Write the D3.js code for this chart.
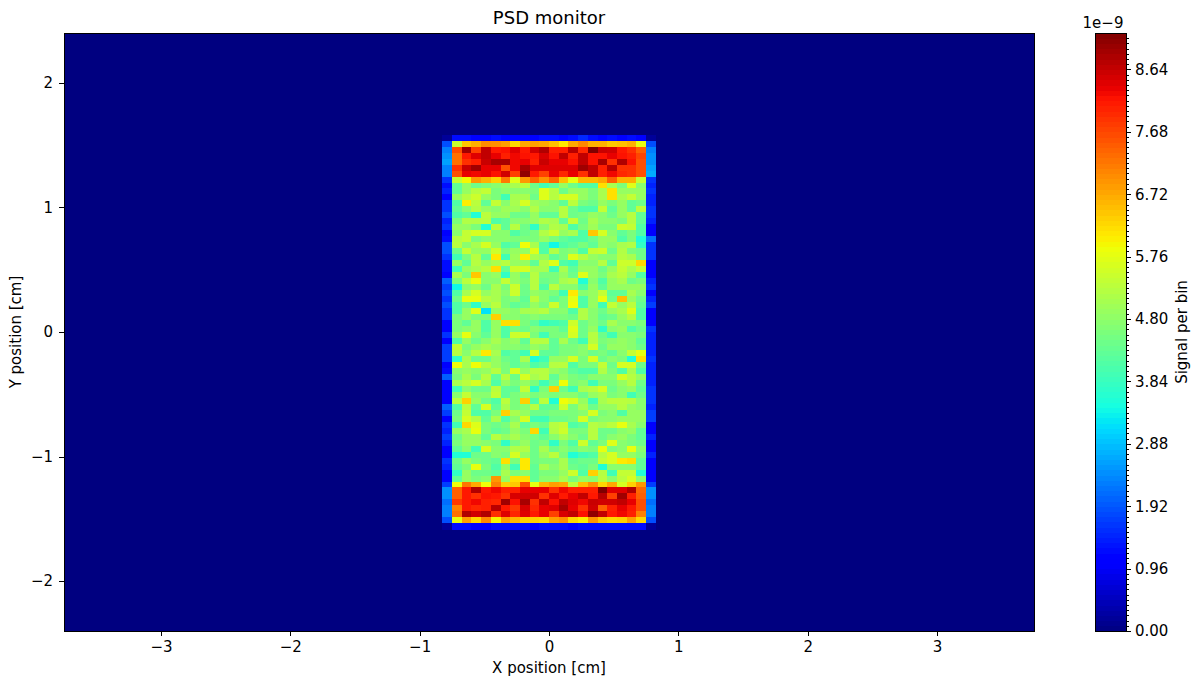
<!DOCTYPE html>
<html><head><meta charset="utf-8">
<script src="https://cdn.jsdelivr.net/npm/d3@7/dist/d3.min.js"></script>
<style>html,body{margin:0;padding:0;background:#fff}svg{display:block}text{font-family:"DejaVu Sans",sans-serif;fill:#000}</style>
</head><body><svg id="c" width="1200" height="687"></svg>
<script>
const chartTitle = "PSD monitor";
const xLabel = "X position [cm]";
const yLabel = "Y position [cm]";
const barLabel = "Signal per bin";
const barExponent = "1e\u22129";
const xTicks = [-3,-2,-1,0,1,2,3];
const yTicks = [-2,-1,0,1,2];
const barTicks = [0,0.96,1.92,2.88,3.84,4.80,5.76,6.72,7.68,8.64];
const xDomain = [-3.75,3.75];
const yDomain = [-2.4,2.4];
const barMax = 9.2;
const binsPerAxis = 100;
const firstColumn = 39;
const firstRow = 17;
// signal per bin (units of 1e-9); everything outside this block is 0
const signal = [
[0.2,1.25,1.25,1.05,1.05,1.25,1.15,1.15,1.05,1.15,1.25,1.25,1.05,1.25,1.5,1.25,1.05,1.25,1.15,1.25,1.05,0.2],
[1.85,5.45,6.42,6.66,7.0,6.97,6.82,6.27,6.74,6.82,6.74,6.5,6.1,6.74,7.05,6.66,6.66,6.42,6.5,6.66,5.8,1.85],
[2.3,7.6,8.94,7.75,8.68,8.14,8.2,8.44,8.14,8.56,8.81,8.07,8.07,8.75,8.0,9.2,8.62,8.56,8.14,7.9,7.44,2.3],
[2.45,7.28,8.14,8.44,8.68,8.37,8.07,8.3,8.2,8.14,8.5,8.2,8.68,8.07,8.68,8.2,8.2,8.37,8.2,8.07,7.7,2.45],
[2.6,7.28,7.9,8.07,8.62,8.88,8.88,8.3,8.37,8.07,8.62,8.37,8.37,8.2,8.68,8.2,8.88,7.9,8.81,8.2,7.6,2.45],
[2.3,7.9,8.62,8.94,8.37,8.37,7.6,8.3,8.88,8.44,8.44,8.44,8.44,8.44,8.94,8.68,8.07,8.75,7.9,7.9,7.6,2.6],
[2.3,7.6,8.37,8.3,8.37,8.2,8.56,7.75,9.07,8.14,7.75,8.37,8.0,8.37,7.9,8.68,8.07,8.3,8.0,7.9,7.6,2.7],
[1.6,5.45,5.97,6.9,6.66,6.34,7.2,5.72,6.9,7.44,6.97,7.44,6.5,5.8,6.58,6.58,6.74,7.44,6.66,6.66,5.45,1.6],
[1.25,4.3,4.9,4.45,4.6,4.75,4.9,5.1,5.3,4.45,3.94,4.3,4.9,4.45,4.12,4.12,6.19,5.1,4.6,5.7,4.75,1.45],
[1.45,4.3,4.9,5.25,5.4,4.6,4.75,4.75,4.75,4.6,5.7,5.25,4.45,4.9,4.9,4.6,5.1,6.19,4.9,4.9,4.9,1.6],
[1.05,4.9,5.25,5.5,4.9,4.6,3.94,5.1,5.1,4.45,5.7,5.25,5.6,5.6,4.9,4.6,5.1,6.19,5.1,5.4,4.9,1.45],
[1.6,4.12,6.05,5.3,4.3,5.4,4.75,5.1,5.6,5.0,4.9,4.75,4.3,5.3,4.6,4.45,4.9,4.6,4.9,4.3,4.45,1.45],
[1.6,4.3,4.75,5.2,4.9,4.75,5.0,5.0,4.75,5.2,4.75,4.75,5.25,4.45,4.12,4.12,5.4,4.3,4.9,4.3,5.3,1.6],
[1.85,4.12,4.3,3.58,5.3,4.9,4.9,4.45,4.45,4.9,4.3,4.3,5.25,4.45,4.6,4.9,4.75,4.45,4.9,5.25,4.3,1.6],
[1.45,4.6,5.2,5.2,5.25,4.12,4.3,4.75,4.75,4.9,5.2,5.1,4.3,5.4,4.45,5.1,4.75,4.75,4.6,5.25,4.3,1.45],
[1.6,4.9,4.9,4.6,3.58,5.3,4.3,5.25,4.45,3.76,4.75,5.2,5.1,4.12,4.6,5.0,4.6,4.6,5.5,5.4,4.12,1.05],
[1.05,4.75,5.4,5.6,5.6,4.75,4.75,4.12,4.45,4.6,5.2,5.5,4.9,5.1,4.12,6.42,5.6,4.75,4.3,4.6,4.12,1.05],
[1.25,5.25,5.4,4.6,4.75,4.75,4.75,4.6,4.6,4.6,4.9,4.6,4.3,4.12,4.12,4.45,4.9,4.9,4.12,4.6,3.58,2.15],
[1.85,5.3,4.75,5.1,5.6,4.9,4.12,4.3,5.9,5.1,4.12,3.4,4.12,4.3,4.6,4.3,4.9,4.75,5.1,5.2,3.76,1.6],
[1.85,4.45,5.4,4.9,4.9,5.5,4.6,4.9,4.9,5.7,4.12,5.2,4.6,4.75,4.12,5.4,5.5,4.45,5.2,4.6,4.45,1.6],
[1.6,3.94,4.6,5.25,4.3,6.1,3.94,5.0,6.05,5.1,4.9,4.3,4.6,5.7,5.25,4.9,4.75,4.75,5.25,5.1,4.45,1.6],
[1.25,4.9,4.3,5.25,4.9,5.1,5.25,4.9,4.9,4.3,5.2,5.7,4.12,3.94,4.75,4.75,5.25,4.3,5.5,5.5,6.27,1.05],
[1.25,3.94,4.9,5.1,5.25,6.19,4.3,5.5,5.6,5.1,5.1,3.94,5.1,4.3,4.9,4.9,4.45,4.9,5.4,5.1,5.4,1.05],
[1.05,5.1,4.6,6.42,4.75,4.9,3.76,4.9,4.45,5.25,4.6,4.6,4.9,4.45,5.7,4.9,4.6,5.1,5.3,4.9,4.12,1.05],
[2.0,4.6,5.3,5.8,4.75,4.75,5.4,4.9,4.6,5.25,4.45,4.6,5.1,5.25,3.58,4.75,4.12,4.9,5.1,4.45,4.6,1.45],
[1.7,3.4,4.75,4.9,4.45,5.1,4.6,5.5,4.45,5.25,4.12,5.3,4.75,4.75,4.12,4.9,4.3,4.9,4.9,4.9,4.9,1.6],
[1.85,4.12,5.1,5.6,4.9,5.1,4.75,5.5,4.45,4.9,4.75,4.6,3.94,6.1,4.75,4.9,5.4,4.3,4.3,5.1,4.75,1.05],
[1.6,4.45,5.8,5.8,5.25,5.1,4.6,4.75,4.3,5.3,4.75,4.3,4.6,5.8,4.12,4.9,5.8,4.45,6.5,4.9,4.45,1.45],
[1.85,4.12,4.45,3.76,4.9,5.3,4.6,4.3,4.45,4.9,4.6,5.5,4.6,5.9,4.12,4.9,3.94,5.4,4.9,5.3,4.3,1.7],
[1.6,4.12,4.9,5.7,3.2,4.9,4.9,4.75,5.1,5.1,5.25,4.75,4.75,4.12,5.2,4.75,4.45,4.9,5.1,5.7,4.12,1.05],
[1.6,4.6,4.9,4.6,4.6,6.34,4.75,4.75,4.6,4.75,4.6,4.6,4.6,4.45,5.2,4.75,4.3,4.45,4.9,5.25,4.12,1.05],
[1.05,4.6,4.3,4.9,4.12,4.9,6.19,6.19,4.6,4.3,3.76,3.94,4.12,5.5,4.45,4.75,4.45,5.1,4.75,4.75,4.6,1.05],
[1.05,4.6,4.75,4.9,4.12,4.9,4.12,4.6,4.45,4.75,4.6,4.6,4.3,5.7,4.45,4.9,3.76,4.75,4.9,4.12,4.45,1.6],
[1.6,4.9,5.8,4.75,4.3,4.9,4.12,5.5,5.5,4.6,3.94,4.6,4.6,5.6,4.45,5.25,4.45,3.94,4.75,4.75,4.6,1.45],
[1.05,4.12,4.9,4.45,4.75,5.1,4.75,4.9,4.3,5.25,5.25,4.3,5.1,4.45,3.94,5.25,4.6,4.75,4.9,4.75,4.3,1.45],
[1.7,5.4,4.6,4.9,5.1,4.9,4.75,4.75,4.6,4.9,4.75,4.3,4.6,4.6,4.75,5.6,4.45,4.9,4.9,4.75,4.45,1.45],
[1.7,5.25,4.75,5.25,6.1,5.1,4.12,4.3,3.94,5.6,4.3,4.3,4.6,4.6,4.75,4.45,4.6,4.3,4.75,5.4,5.8,1.45],
[1.7,3.76,5.1,4.45,4.45,4.9,4.45,4.3,5.1,3.58,3.94,4.9,4.9,5.6,4.6,5.6,4.45,4.75,4.6,3.58,6.19,1.6],
[1.05,5.9,5.1,5.9,5.25,4.9,4.6,4.3,4.6,4.12,4.3,5.25,5.3,4.12,4.6,4.6,5.4,4.45,5.6,5.6,4.45,1.45],
[1.25,4.75,4.9,4.75,4.9,5.25,4.6,5.6,4.9,5.25,5.25,4.9,4.75,4.3,4.12,4.12,5.2,4.6,4.12,5.1,4.12,1.45],
[2.0,4.6,5.1,4.6,5.25,4.3,5.25,4.45,5.6,5.1,5.25,4.3,4.9,4.6,4.45,4.75,4.75,4.75,5.6,5.25,4.9,1.45],
[1.05,5.1,5.3,5.6,5.1,4.12,4.9,4.6,4.9,4.6,3.94,4.45,5.9,4.6,4.75,3.94,4.6,4.6,4.9,5.25,4.45,1.45],
[1.05,3.94,4.75,4.45,4.45,5.3,4.3,4.3,5.4,3.76,4.6,6.34,4.45,3.94,5.1,5.25,5.6,4.45,4.75,4.9,4.3,1.6],
[1.05,4.75,5.4,4.75,4.75,5.4,4.3,4.6,4.9,4.6,4.75,4.6,4.75,4.75,4.45,4.9,5.1,4.6,4.75,3.94,4.45,1.6],
[1.05,5.3,6.34,4.9,4.45,4.12,5.3,4.6,6.34,4.12,5.3,3.58,5.9,5.6,4.9,3.94,5.1,5.3,5.3,5.25,4.75,1.6],
[2.0,4.12,5.3,4.3,5.6,4.3,5.1,4.6,4.75,5.25,4.3,4.3,5.5,4.6,5.1,4.45,4.9,4.9,5.25,4.9,4.75,1.45],
[1.7,4.45,5.4,4.12,4.12,4.6,6.34,5.1,4.9,4.45,4.45,4.6,4.6,4.6,4.75,5.6,4.6,4.75,4.12,4.9,4.9,1.7],
[1.05,4.6,5.6,5.2,4.3,5.1,4.12,4.75,5.6,3.94,3.94,4.45,4.45,4.6,5.6,4.6,4.75,4.75,4.9,4.9,4.9,1.7],
[1.6,3.94,6.27,5.7,4.6,4.45,4.6,5.1,4.3,4.6,4.45,5.25,5.4,4.12,4.3,5.25,5.1,5.3,5.8,5.1,4.75,1.05],
[1.45,4.9,5.1,5.8,4.6,4.3,4.45,4.9,4.6,6.27,3.94,5.2,5.5,4.6,4.6,5.25,4.45,4.45,4.75,4.9,4.3,1.05],
[1.7,4.45,4.9,4.9,4.3,5.25,4.9,5.1,4.75,4.6,4.3,4.75,5.1,4.75,4.45,5.25,4.45,4.75,4.9,4.6,4.3,1.45],
[1.45,4.6,4.9,4.9,4.75,4.6,3.76,4.6,4.9,4.45,4.6,3.76,4.6,4.12,5.5,4.3,4.6,5.7,4.75,4.6,4.45,1.05],
[1.05,4.3,4.75,3.94,5.6,4.75,4.75,5.2,5.2,4.45,5.1,4.45,4.75,4.45,4.75,4.6,5.8,4.6,4.75,5.8,4.75,1.05],
[1.05,3.58,3.58,4.45,4.45,4.75,4.6,5.6,4.9,4.45,4.9,5.3,4.6,3.58,3.94,4.12,5.25,5.6,4.9,4.9,4.6,1.45],
[1.6,4.45,4.9,4.6,4.45,4.3,6.19,4.6,6.1,4.45,4.6,4.6,5.1,4.3,4.45,4.45,5.4,5.6,6.1,6.19,4.3,1.05],
[1.45,4.3,4.6,5.8,4.6,4.12,4.9,3.94,6.1,4.3,5.1,4.75,5.1,4.45,4.3,4.6,3.58,4.75,4.75,4.75,4.3,1.05],
[1.05,3.76,4.9,4.45,4.45,4.3,5.1,4.6,4.75,4.3,4.6,4.6,4.9,5.5,4.12,6.34,5.25,3.94,5.4,5.4,3.58,1.05],
[1.05,4.3,4.9,4.6,4.75,6.9,4.9,6.19,6.19,4.3,4.75,4.75,5.1,4.6,4.9,4.75,5.3,4.75,5.3,5.6,4.75,1.05],
[1.7,5.9,7.2,6.74,5.9,7.13,6.34,6.42,7.6,5.8,6.58,6.82,6.74,5.37,6.5,6.97,6.27,6.74,5.63,6.34,6.9,1.7],
[2.45,7.44,8.14,8.81,8.14,8.3,8.07,8.07,8.37,8.37,8.37,7.9,8.3,8.07,8.07,8.07,9.2,8.44,8.44,8.81,7.36,2.45],
[2.45,7.44,8.14,7.9,8.2,8.14,7.9,8.5,8.56,8.56,7.9,8.44,8.14,8.37,8.68,8.14,8.75,7.75,8.94,8.07,7.44,2.45],
[2.15,7.83,8.14,8.3,8.07,8.0,8.94,8.2,8.88,7.9,8.68,8.2,8.68,8.44,8.3,8.62,8.56,8.56,8.68,8.37,7.6,2.15],
[2.3,7.13,8.14,8.0,8.07,8.75,8.14,7.83,8.5,8.0,8.37,8.44,8.88,8.37,7.9,8.56,7.44,8.07,8.37,8.14,7.6,2.3],
[2.3,7.28,8.81,8.56,8.81,7.9,8.44,8.0,8.44,8.14,8.37,7.75,8.5,8.68,8.2,9.07,8.68,8.14,8.3,8.07,7.13,2.3],
[1.85,5.8,6.82,6.27,7.05,5.97,6.82,6.58,6.34,6.34,6.27,6.82,6.97,6.27,6.05,6.9,6.42,6.27,6.34,6.82,6.27,1.85],
[0.2,1.25,1.25,1.05,1.05,1.25,1.25,1.25,1.25,1.15,1.25,1.25,1.25,1.15,1.25,1.25,1.25,1.25,1.25,1.25,1.25,0.2]
];

const margin = {left:64, right:1034, top:33, bottom:631};
const x = d3.scaleLinear().domain(xDomain).range([margin.left, margin.right]);
const y = d3.scaleLinear().domain(yDomain).range([margin.bottom, margin.top]);
const binX = d3.scaleLinear().domain([0,binsPerAxis]).range([margin.left, margin.right]);
const binY = d3.scaleLinear().domain([0,binsPerAxis]).range([margin.top, margin.bottom]);
// matplotlib "jet" channel breakpoints
const piece = (pts,t)=>{for(let i=1;i<pts.length;i++){if(t<=pts[i][0]){const a=pts[i-1],b=pts[i];return a[1]+(b[1]-a[1])*(t-a[0])/(b[0]-a[0]);}}return pts[pts.length-1][1];};
const jetR=[[0,0],[0.35,0],[0.66,1],[0.89,1],[1,0.5]];
const jetG=[[0,0],[0.125,0],[0.375,1],[0.64,1],[0.91,0],[1,0]];
const jetB=[[0,0.5],[0.11,1],[0.34,1],[0.65,0],[1,0]];
const jet = t=>d3.rgb(255*piece(jetR,t),255*piece(jetG,t),255*piece(jetB,t)).formatHex();
const color = d3.scaleSequential(jet).domain([0,barMax]);

const svg = d3.select("#c");
const plot = svg.append("g");
plot.append("rect").attr("x",margin.left).attr("y",margin.top)
  .attr("width",margin.right-margin.left).attr("height",margin.bottom-margin.top).attr("fill",color(0));
plot.selectAll("g.row").data(signal).join("g").attr("class","row")
  .each(function(row,r){
    d3.select(this).selectAll("rect").data(row).join("rect")
      .attr("x",(d,c)=>binX(firstColumn+c))
      .attr("y",binY(firstRow+r))
      .attr("width",binX(1)-binX(0)+0.3)
      .attr("height",binY(1)-binY(0)+0.3)
      .attr("fill",d=>color(d))
      .attr("shape-rendering","crispEdges");
  });

const fs = 15;
function style(g){
  g.selectAll("text").style("font-size",fs+"px").style("font-family",'"DejaVu Sans",sans-serif').attr("fill","#000");
  g.selectAll("line,path").attr("stroke","#000").attr("stroke-width",1).attr("shape-rendering","crispEdges");
}
const xAxis = svg.append("g").attr("transform",`translate(0,${margin.bottom})`)
  .call(d3.axisBottom(x).tickValues(xTicks).tickSize(5).tickPadding(5).tickFormat(d3.format("d")));
const yAxis = svg.append("g").attr("transform",`translate(${margin.left},0)`)
  .call(d3.axisLeft(y).tickValues(yTicks).tickSize(5).tickPadding(6).tickFormat(d3.format("d")));
style(xAxis); style(yAxis);
xAxis.select(".domain").remove(); yAxis.select(".domain").remove();
svg.append("rect").attr("x",margin.left).attr("y",margin.top)
  .attr("width",margin.right-margin.left).attr("height",margin.bottom-margin.top)
  .attr("fill","none").attr("stroke","#000").attr("stroke-width",1).attr("shape-rendering","crispEdges");

// colour bar
const bar = {left:1095,right:1126};
const barY = d3.scaleLinear().domain([0,barMax]).range([margin.bottom,margin.top]);
const barStep = 0.08;
const barLevels = d3.range(0,barMax-1e-6,barStep);
svg.append("g").selectAll("rect").data(barLevels).join("rect")
  .attr("x",bar.left).attr("width",bar.right-bar.left)
  .attr("y",d=>barY(Math.min(d+barStep,barMax)))
  .attr("height",d=>barY(d)-barY(Math.min(d+barStep,barMax))+0.5)
  .attr("fill",d=>color(d+barStep/2)).attr("shape-rendering","crispEdges");
const barMinor = svg.append("g").attr("transform",`translate(${bar.right},0)`)
  .call(d3.axisRight(barY).tickValues(barLevels).tickSize(2.8).tickFormat(""));
style(barMinor); barMinor.select(".domain").remove();
const barAxis = svg.append("g").attr("transform",`translate(${bar.right},0)`)
  .call(d3.axisRight(barY).tickValues(barTicks).tickSize(5).tickPadding(4).tickFormat(d3.format(".2f")));
style(barAxis); barAxis.select(".domain").remove();
svg.append("rect").attr("x",bar.left).attr("y",margin.top)
  .attr("width",bar.right-bar.left).attr("height",margin.bottom-margin.top)
  .attr("fill","none").attr("stroke","#000").attr("stroke-width",1).attr("shape-rendering","crispEdges");

const label=(t,px,py,size,rot)=>svg.append("text").text(t).attr("text-anchor","middle")
  .attr("transform",`translate(${px},${py})`+(rot?` rotate(${rot})`:"")).style("font-size",size+"px");
label(chartTitle,549,24,18);
label(xLabel,549,673,15);
label(yLabel,21,332,15,-90);
label(barLabel,1187,332,15,-90);
label(barExponent,1103,28,15);
</script></body></html>
